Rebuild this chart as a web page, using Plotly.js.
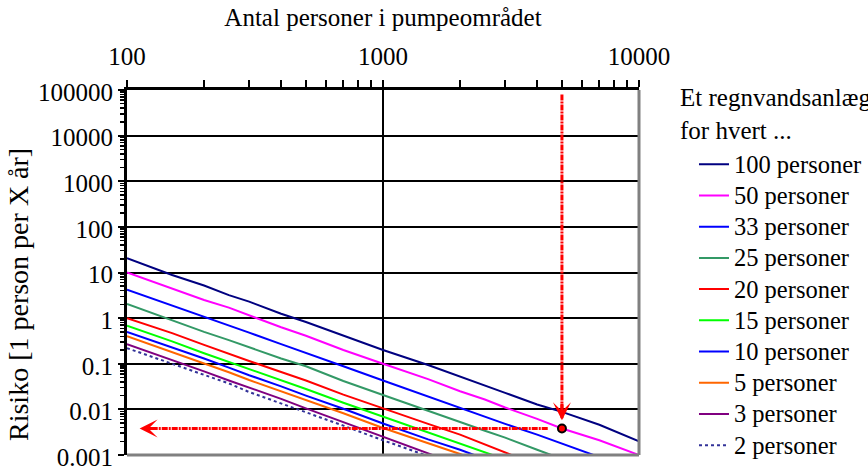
<!DOCTYPE html>
<html><head><meta charset="utf-8">
<script src="https://cdn.plot.ly/plotly-3.0.1.min.js"></script>
<style>html,body{margin:0;padding:0;background:#fff}</style>
</head><body><div id="chart" style="width:868px;height:471px"></div>
<script>
// Number of persons in the pumping area (x values shared by all series)
const persons = [100,150,200,250,300,400,500,700,1000,1500,2000,2500,3000,4000,5000,7000,10000];

const seriesNames = ['100 personer','50 personer','33 personer','25 personer','20 personer','15 personer','10 personer','5 personer','3 personer','2 personer'];

// Risk values [1 person per X years]
const risk100 = [20.5,8.8,5.2,3.2,2.3,1.25,0.82,0.41,0.2,0.094,0.053,0.033,0.023,0.0128,0.0088,0.0046,0.002];
const risk50  = [10,4.4,2.5,1.7,1.15,0.63,0.41,0.2,0.1,0.046,0.025,0.0165,0.011,0.0062,0.0038,0.0021,0.001];
const risk33  = [4.2,1.9,1.1,0.7,0.48,0.27,0.175,0.088,0.043,0.019,0.011,0.0068,0.0048,0.0028,0.0018,0.0009];
const risk25  = [2.05,0.88,0.5,0.33,0.23,0.13,0.088,0.042,0.0207,0.0095,0.0053,0.0034,0.0024,0.0013,0.00082];
const risk20  = [1.0,0.47,0.26,0.165,0.115,0.066,0.043,0.021,0.0104,0.0048,0.0028,0.0017,0.00115,0.0006];
const risk15  = [0.68,0.31,0.17,0.11,0.077,0.044,0.028,0.014,0.0069,0.0032,0.0018,0.00115,0.0008];
const risk10  = [0.5,0.23,0.13,0.082,0.056,0.032,0.02,0.0103,0.0049,0.0022,0.0013,0.00082];
const risk5   = [0.4,0.18,0.1,0.065,0.044,0.025,0.016,0.0082,0.0039,0.0018,0.00105,0.00065];
const risk3   = [0.27,0.122,0.068,0.043,0.03,0.017,0.0105,0.0052,0.0025,0.0011,0.0006];
const risk2   = [0.22,0.1,0.057,0.037,0.024,0.0135,0.0088,0.0044,0.0021,0.00095,0.0005];

// Example reading (red arrows)
const exampleN = [5000];
const exampleRisk = [0.0038];
const arrowTopRisk = 80000;
const arrowLeftN = 112;
const arrowLineStartN = 4400;
const arrowDownTipRisk = 0.0058;

// Axis ticks
const xTickVals = [100,1000,10000];
const xTickText = ['100','1000','10000'];
const yTickVals = [0.001,0.01,0.1,1,10,100,1000,10000,100000];
const yTickText = ['0.001','0.01','0.1','1','10','100','1000','10000','100000'];

const allRisk = [risk100,risk50,risk33,risk25,risk20,risk15,risk10,risk5,risk3,risk2];
const colors = ['#000080','#ff00ff','#0000ff','#339966','#ff0000','#00ff00','#0000ff','#ff6600','#800080','#333399'];

const FONT = '"Liberation Serif", "Times New Roman", Times, serif';

const traces = allRisk.map((r, i) => ({
  type: 'scatter', mode: 'lines',
  name: '<span style="font-size:24.5px">' + seriesNames[i] + '</span>',
  x: persons.slice(0, r.length), y: r,
  line: {color: colors[i], width: 2, dash: i === 9 ? 'dot' : 'solid'},
  hoverinfo: 'skip'
}));

// red dashed guide lines
traces.push({
  type: 'scatter', mode: 'lines', showlegend: false, hoverinfo: 'skip',
  x: [exampleN[0], exampleN[0]], y: [arrowTopRisk, arrowDownTipRisk * 1.1],
  line: {color: '#ff0000', width: 3, dash: '6px,1px,2px,1px'}
});
traces.push({
  type: 'scatter', mode: 'lines', showlegend: false, hoverinfo: 'skip',
  x: [arrowLineStartN, arrowLeftN * 1.08], y: [exampleRisk[0], exampleRisk[0]],
  line: {color: '#ff0000', width: 3, dash: '6px,1px,2px,1px'}
});
traces.push({
  type: 'scatter', mode: 'markers', showlegend: false, hoverinfo: 'skip',
  x: exampleN, y: exampleRisk,
  marker: {color: '#ff0000', size: 8, line: {color: '#000', width: 2}}
});

function minorVals(lo, hi) {
  const v = [];
  for (let d = lo; d < hi; d++) for (let k = 2; k <= 9; k++) v.push(k * Math.pow(10, d));
  return v;
}

const layout = {
  width: 868, height: 471,
  paper_bgcolor: '#fff', plot_bgcolor: '#fff',
  margin: {l: 127, r: 229, t: 90, b: 16, autoexpand: false},
  font: {family: FONT, color: '#000', size: 22},
  showlegend: true,
  xaxis: {
    type: 'log', range: [2, 4], side: 'top',
    tickmode: 'array', tickvals: xTickVals, ticktext: xTickText,
    ticks: 'outside', ticklen: 7, tickwidth: 2, tickcolor: '#000',
    showline: true, linecolor: '#000', linewidth: 3,
    showgrid: true, gridcolor: '#000', gridwidth: 1.5, zeroline: false,
    tickfont: {family: FONT, size: 25, color: '#000'},
    ticklabelstandoff: 5,
    minor: {tickmode: 'array', tickvals: minorVals(2, 4), ticks: 'outside', ticklen: 7, tickwidth: 2, tickcolor: '#000', showgrid: false},
    title: {text: 'Antal personer i pumpeområdet', font: {family: FONT, size: 25, color: '#000'}, standoff: 10}
  },
  yaxis: {
    type: 'log', range: [-3, 5],
    tickmode: 'array', tickvals: yTickVals, ticktext: yTickText,
    ticks: 'outside', ticklen: 6, tickwidth: 2, tickcolor: '#000',
    showline: true, linecolor: '#000', linewidth: 3,
    showgrid: true, gridcolor: '#000', gridwidth: 2, zeroline: false,
    tickfont: {family: FONT, size: 25, color: '#000'},
    ticklabelshift: 2,
    ticklabeloverflow: 'allow',
    minor: {tickmode: 'array', tickvals: minorVals(-3, 5), ticks: 'outside', ticklen: 4, tickwidth: 1.5, tickcolor: '#000', showgrid: false}
  },
  legend: {
    x: 1.1074, y: 0.853, xanchor: 'left', yanchor: 'top',
    bgcolor: 'rgba(0,0,0,0)', borderwidth: 0,
    font: {family: FONT, size: 21.7, color: '#000'},
    tracegroupgap: 0
  },
  shapes: [
    {type: 'line', xref: 'paper', yref: 'paper', x0: 1, x1: 1, y0: 0, y1: 1, line: {color: '#808080', width: 3}},
    {type: 'line', xref: 'paper', yref: 'paper', x0: 0, x1: 1, y0: 0, y1: 0, line: {color: '#808080', width: 3}}
  ],
  annotations: [
    {xref: 'paper', yref: 'paper', x: -0.213, y: 0.441, xanchor: 'center', yanchor: 'middle',
     textangle: -90, showarrow: false, text: 'Risiko [1 person per X år]', font: {family: FONT, size: 28, color: '#000'}},
    {xref: 'paper', yref: 'paper', x: 1.076, y: 0.934, xanchor: 'left', yanchor: 'middle', align: 'left',
     showarrow: false, text: 'Et regnvandsanlæg<br>for hvert ...', font: {family: FONT, size: 25, color: '#000'}},
    {xref: 'x', yref: 'y', x: Math.log10(exampleN[0]), y: Math.log10(arrowDownTipRisk), ax: 0, ay: -18,
     showarrow: true, arrowhead: 3, arrowsize: 1, arrowwidth: 3, arrowcolor: '#ff0000', text: ''},
    {xref: 'x', yref: 'y', x: Math.log10(arrowLeftN), y: Math.log10(exampleRisk[0]), ax: 18, ay: 0,
     showarrow: true, arrowhead: 3, arrowsize: 1, arrowwidth: 3, arrowcolor: '#ff0000', text: ''}
  ]
};

Plotly.newPlot('chart', traces, layout, {displayModeBar: false, staticPlot: true});
</script>
</body></html>
